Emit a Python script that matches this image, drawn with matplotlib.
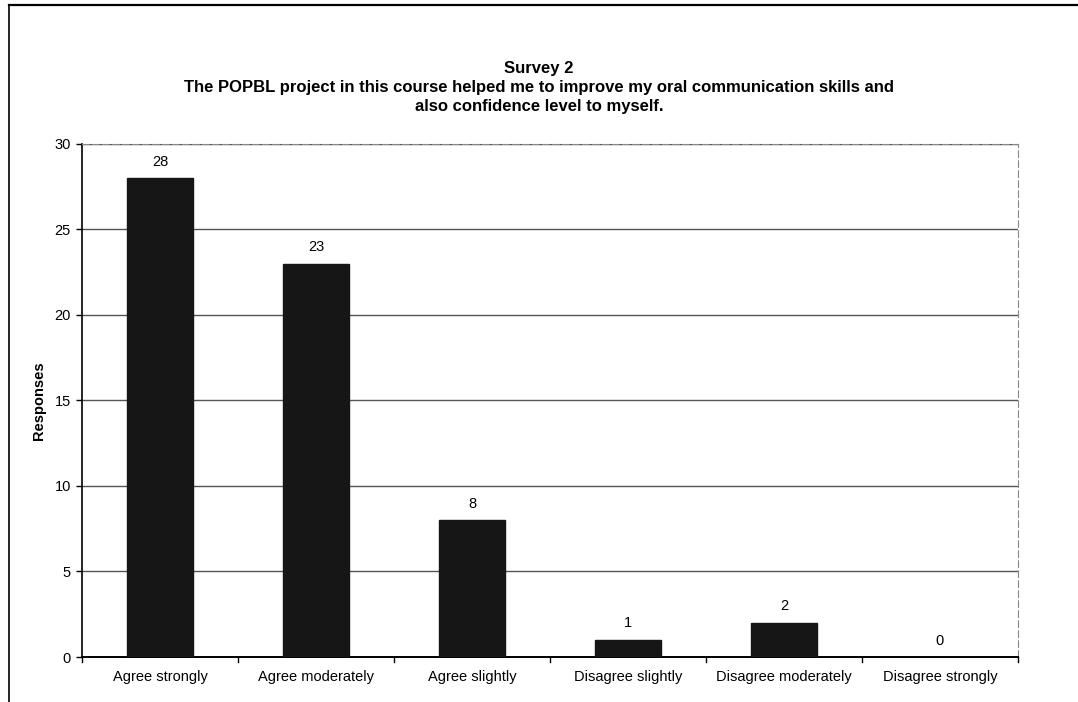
import matplotlib
matplotlib.use('Agg')
import matplotlib.pyplot as plt

plt.rcParams['font.family'] = ['Liberation Sans', 'DejaVu Sans']

# ── Data ─────────────────────────────────────────────────────────────────────
categories = ['Agree strongly', 'Agree moderately', 'Agree slightly',
              'Disagree slightly', 'Disagree moderately', 'Disagree strongly']
responses = [28, 23, 8, 1, 2, 0]
y_ticks = [0, 5, 10, 15, 20, 25, 30]

TITLE = ('Survey 2\n'
         'The POPBL project in this course helped me to improve my oral communication skills and\n'
         'also confidence level to myself.')

# ── Canvas ───────────────────────────────────────────────────────────────────
fig = plt.figure(figsize=(10.78, 7.02), dpi=100)
fig.patch.set_facecolor('white')

# outer frame (left + top edges of the scanned chart box)
fig.add_artist(plt.Line2D([0.0085, 0.0085], [0.0, 0.993], color='black', lw=1.2,
                          transform=fig.transFigure))
fig.add_artist(plt.Line2D([0.0085, 1.0], [0.993, 0.993], color='black', lw=1.6,
                          transform=fig.transFigure))

ax = fig.add_axes([0.0761, 0.0641, 0.8682, 0.7308])
x = list(range(len(categories)))
ax.bar(x, responses, width=0.42, color='#161616', edgecolor='#161616', zorder=3)

for xi, v in zip(x, responses):
    ax.text(xi, v + 0.55, str(v), ha='center', va='bottom', fontsize=10.5, zorder=4)

ax.set_xlim(-0.5, len(categories) - 0.5)
ax.set_ylim(0, 30)
ax.set_yticks(y_ticks)
ax.set_yticklabels([str(t) for t in y_ticks], fontsize=10.5)
ax.set_xticks(x)
ax.set_xticklabels(categories, fontsize=10.5)
ax.tick_params(axis='x', length=0, pad=9)
ax.tick_params(axis='y', length=4, width=1, pad=4)

# category boundary ticks along the x axis
for b in range(len(categories) + 1):
    ax.plot([b - 0.5, b - 0.5], [0, -0.3], color='black', lw=1, clip_on=False, zorder=4)

ax.yaxis.grid(True, color='#555555', lw=1.0, zorder=0)
ax.set_axisbelow(True)

for side in ['top', 'right']:
    ax.spines[side].set_color('#888888')
    ax.spines[side].set_linestyle((0, (6, 3)))
    ax.spines[side].set_linewidth(0.8)
ax.spines['left'].set_linewidth(1.2)
ax.spines['bottom'].set_linewidth(1.4)

ax.set_ylabel('Responses', fontsize=10.5, fontweight='bold', labelpad=6)

fig.text(0.5, 0.876, TITLE, ha='center', va='center', fontsize=12,
         fontweight='bold', linespacing=1.33)

plt.savefig('out.png', dpi=100, facecolor='white')
plt.close()
